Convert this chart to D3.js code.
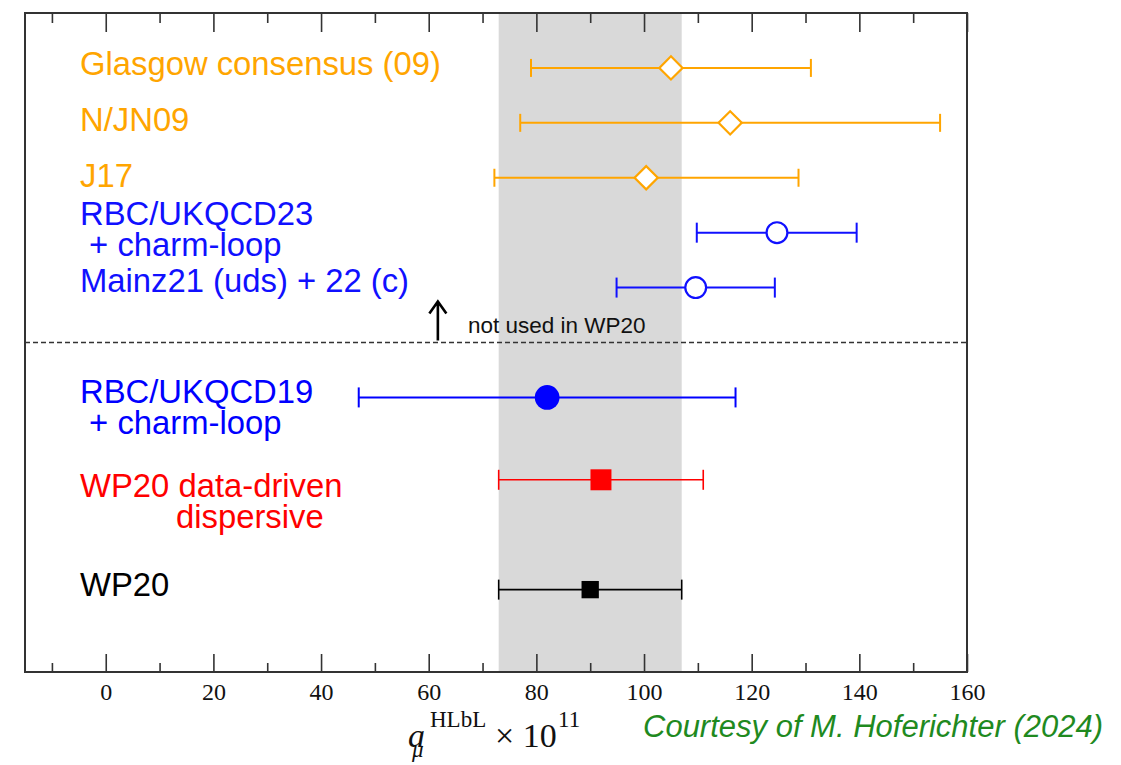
<!DOCTYPE html>
<html>
<head>
<meta charset="utf-8">
<script src="https://cdn.jsdelivr.net/npm/d3@7"></script>
<style>
  html, body { margin: 0; padding: 0; background: #ffffff; }
  svg { display: block; }
  text { white-space: pre; }
</style>
</head>
<body>
<svg id="chart" width="1121" height="765"></svg>
<script>
// ---- data ---------------------------------------------------------------
const categories = [
  "Glasgow consensus (09)",
  "N/JN09",
  "J17",
  "RBC/UKQCD23\n + charm-loop",
  "Mainz21 (uds) + 22 (c)",
  "RBC/UKQCD19\n + charm-loop",
  "WP20 data-driven\ndispersive",
  "WP20"
];
const centralValues = [105, 116, 100.4, 124.7, 109.6, 82, 92, 90];
const lowerErrors   = [26, 39, 28.2, 14.9, 14.7, 35, 19, 17];
const upperErrors   = [26, 39, 28.3, 14.8, 14.7, 35, 19, 17];
const groups = ["pheno", "pheno", "pheno", "lattice-new", "lattice-new", "lattice-wp", "dispersive", "wp"];
const bandRange = [73, 107];          // WP20 band, 90 +- 17
const majorTicks = [0, 20, 40, 60, 80, 100, 120, 140, 160];
const minorTicks = [-10, 10, 30, 50, 70, 90, 110, 130, 150];
const noteText = "not used in WP20";
const creditText = "Courtesy of M. Hoferichter (2024)";

// ---- layout -------------------------------------------------------------
// vertical slot of each entry (row units), dashed separator between the blocks
const rowSlots = [0, 1, 2, 3, 4, 6, 7.5, 9.5];
const separatorSlot = 5;
// label baseline offsets (px from the row) and per-line indents
const labelOffsets = [7, 8, 9, -7.5, 4, 6, 17, 6];
const lineIndents = { "dispersive": 96 };
const lineHeight = 31;

const styles = {
  "pheno":       { color: "#ffa500", symbol: "diamond", fill: "#ffffff", size: 270, cap: 9,  width: 2 },
  "lattice-new": { color: "#1010ff", symbol: "circle",  fill: "#ffffff", size: 340, cap: 10, width: 2 },
  "lattice-wp":  { color: "#0000ff", symbol: "circle",  fill: "#0000ff", size: 480, cap: 10, width: 2 },
  "dispersive":  { color: "#ff0000", symbol: "square",  fill: "#ff0000", size: 440, cap: 10, width: 1.6 },
  "wp":          { color: "#000000", symbol: "square",  fill: "#000000", size: 300, cap: 10, width: 1.6 }
};

const W = 1121, H = 765;
const frame = { left: 25, right: 967, top: 13, bottom: 672 };

const svg = d3.select("#chart");
svg.append("rect").attr("width", W).attr("height", H).attr("fill", "#ffffff");

const x = d3.scaleLinear().domain([-15, 160]).range([frame.left, frame.right]);
const y = d3.scaleLinear().domain([-1, 11]).range([frame.top, frame.bottom]);

// WP20 band
svg.append("rect")
  .attr("x", x(bandRange[0]))
  .attr("y", frame.top)
  .attr("width", x(bandRange[1]) - x(bandRange[0]))
  .attr("height", frame.bottom - frame.top)
  .attr("fill", "#d9d9d9");

// separator between entries used / not used in WP20
svg.append("line")
  .attr("x1", frame.left).attr("x2", frame.right)
  .attr("y1", y(separatorSlot)).attr("y2", y(separatorSlot))
  .attr("stroke", "#333333").attr("stroke-width", 1.4)
  .attr("stroke-dasharray", "5,3");

// axes: major ticks with labels on the bottom, bare ticks on top
const axisFont = "'Liberation Serif', 'Times New Roman', serif";
const bottomAxis = svg.append("g")
  .attr("transform", `translate(0,${frame.bottom})`)
  .call(d3.axisBottom(x).tickValues(majorTicks).tickSizeInner(-18).tickSizeOuter(0).tickPadding(11));
bottomAxis.selectAll("text")
  .attr("font-family", axisFont).attr("font-size", 24).attr("fill", "#111");
const bottomMinor = svg.append("g")
  .attr("transform", `translate(0,${frame.bottom})`)
  .call(d3.axisBottom(x).tickValues(minorTicks).tickSizeInner(-9).tickSizeOuter(0).tickFormat(""));
const topAxis = svg.append("g")
  .attr("transform", `translate(0,${frame.top})`)
  .call(d3.axisTop(x).tickValues(majorTicks).tickSizeInner(-19).tickSizeOuter(0).tickFormat(""));
const topMinor = svg.append("g")
  .attr("transform", `translate(0,${frame.top})`)
  .call(d3.axisTop(x).tickValues(minorTicks).tickSizeInner(-10).tickSizeOuter(0).tickFormat(""));
[bottomAxis, bottomMinor, topAxis, topMinor].forEach(g => {
  g.select(".domain").remove();
  g.selectAll(".tick line").attr("stroke", "#333333").attr("stroke-width", 1.6);
});

// plot frame
svg.append("rect")
  .attr("x", frame.left).attr("y", frame.top)
  .attr("width", frame.right - frame.left).attr("height", frame.bottom - frame.top)
  .attr("fill", "none").attr("stroke", "#333333").attr("stroke-width", 2);

// error bars and central values
const entries = categories.map((c, i) => ({
  name: c, value: centralValues[i],
  lo: centralValues[i] - lowerErrors[i], hi: centralValues[i] + upperErrors[i],
  slot: rowSlots[i], style: styles[groups[i]], offset: labelOffsets[i]
}));

const marks = svg.append("g").selectAll("g").data(entries).join("g");
marks.append("line")
  .attr("x1", d => x(d.lo)).attr("x2", d => x(d.hi))
  .attr("y1", d => y(d.slot)).attr("y2", d => y(d.slot))
  .attr("stroke", d => d.style.color).attr("stroke-width", d => d.style.width);
marks.selectAll("line.cap").data(d => [d.lo, d.hi].map(v => ({ v, d }))).join("line")
  .attr("class", "cap")
  .attr("x1", e => x(e.v)).attr("x2", e => x(e.v))
  .attr("y1", e => y(e.d.slot) - e.d.style.cap).attr("y2", e => y(e.d.slot) + e.d.style.cap)
  .attr("stroke", e => e.d.style.color).attr("stroke-width", e => e.d.style.width);

const symbolTypes = { diamond: d3.symbolSquare, circle: d3.symbolCircle, square: d3.symbolSquare };
marks.append("path")
  .attr("d", d => d3.symbol().type(symbolTypes[d.style.symbol]).size(d.style.size)())
  .attr("transform", d => `translate(${x(d.value)},${y(d.slot)})` + (d.style.symbol === "diamond" ? " rotate(45)" : ""))
  .attr("fill", d => d.style.fill)
  .attr("stroke", d => d.style.color)
  .attr("stroke-width", d => d.style.fill === "#ffffff" ? 2.2 : 0);

// entry labels
const labelFont = "'Liberation Sans', Arial, Helvetica, sans-serif";
const labels = svg.append("g").selectAll("text").data(entries).join("text")
  .attr("x", 80)
  .attr("y", d => y(d.slot) + d.offset)
  .attr("font-family", labelFont)
  .attr("font-size", 32.8)
  .attr("fill", d => d.style.color);
labels.selectAll("tspan").data(d => d.name.split("\n")).join("tspan")
  .attr("x", t => 80 + (lineIndents[t] || 0))
  .attr("dy", (t, i) => i === 0 ? 0 : lineHeight)
  .text(t => t);

// "not used" annotation with an upward arrow
const arrowX = x(61.7), sepY = y(separatorSlot);
svg.append("path")
  .attr("d", `M${arrowX},${sepY - 2}V${sepY - 40}M${arrowX - 8.5},${sepY - 29}L${arrowX},${sepY - 41}L${arrowX + 8.5},${sepY - 29}`)
  .attr("fill", "none").attr("stroke", "#000").attr("stroke-width", 2.6)
  .attr("stroke-linejoin", "miter");
svg.append("text")
  .attr("x", x(67.3)).attr("y", sepY - 9.5)
  .attr("font-family", labelFont).attr("font-size", 22.5).attr("fill", "#111")
  .text(noteText);

// axis title: a_mu^HLbL x 10^11
const title = svg.append("g").attr("font-family", axisFont).attr("fill", "#111");
title.append("text").attr("x", 408).attr("y", 747).attr("font-size", 34).attr("font-style", "italic").text("a");
title.append("text").attr("x", 412).attr("y", 757).attr("font-size", 23).attr("font-style", "italic").text("μ");
title.append("text").attr("x", 430).attr("y", 727).attr("font-size", 23).text("HLbL");
title.append("text").attr("x", 495).attr("y", 747).attr("font-size", 34).text("× 10");
title.append("text").attr("x", 558).attr("y", 727).attr("font-size", 23).text("11");

// credit line
svg.append("text")
  .attr("x", 643).attr("y", 737)
  .attr("font-family", labelFont).attr("font-style", "italic")
  .attr("font-size", 31).attr("fill", "#1f8a1f")
  .text(creditText);
</script>
</body>
</html>
